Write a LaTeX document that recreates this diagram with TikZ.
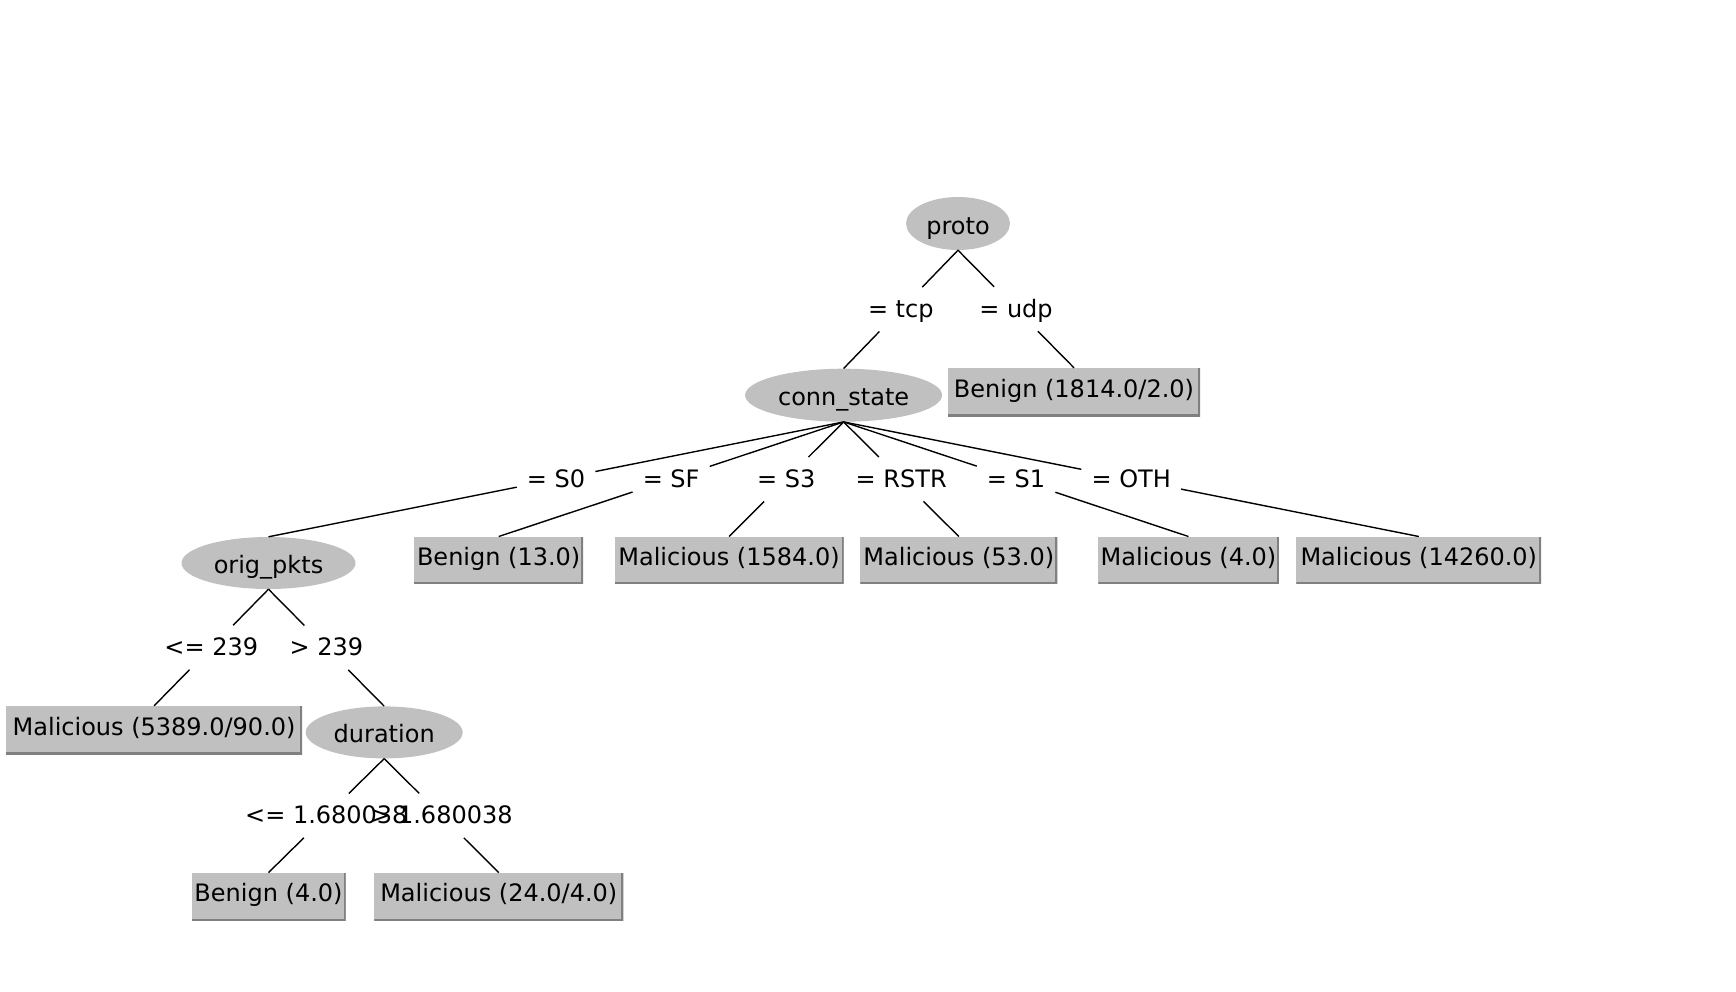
\documentclass[tikz,border=0pt]{standalone}
\usepackage{fontspec}
\setmainfont{DejaVu Sans}
\usetikzlibrary{shapes.geometric}
\definecolor{nodegray}{RGB}{192,192,192}
\definecolor{edgeshade}{RGB}{128,128,128}
\tikzset{
  every node/.style={font=\fontsize{24}{29}\selectfont, text height=17.5pt, text depth=7.5pt},
  split/.style={ellipse, fill=nodegray, inner sep=0pt, minimum width=#1, minimum height=53pt,
    text height=23pt, text depth=2pt},
  leaf/.style={rectangle, fill=nodegray, inner sep=0pt, minimum height=48pt, minimum width=#1,
    path picture={\draw[edgeshade, line width=4pt]
      (path picture bounding box.south west) -- (path picture bounding box.south east)
      -- (path picture bounding box.north east);}},
  branch/.style={draw=black, line width=1.4pt},
  % branch labels: an invisible plate that the branch line stops at
  lbl/.style={rectangle, inner xsep=10pt, inner ysep=0pt, minimum height=44pt,
    text height=20.5pt, text depth=4.5pt},
}
\begin{document}
\begin{tikzpicture}[x=1pt, y=-1pt]
\useasboundingbox (0,0) rectangle (1736,991);

% decision nodes
\node[split=104pt] (proto) at (958,223.5) {proto};
\node[split=197pt] (conn) at (843.6,395.2) {conn\_state};
\node[split=174pt, minimum height=52pt] (pkts) at (268.5,563) {orig\_pkts};
\node[split=157pt, minimum height=52pt] (dur) at (384.2,732.4) {duration};

% leaves
\node[leaf=252pt] (udpleaf) at (1074,392) {Benign (1814.0/2.0)};
\node[leaf=169pt, minimum height=47pt] (sf) at (498.7,560.2) {Benign (13.0)};
\node[leaf=229pt, minimum height=47pt] (sthree) at (729,560.2) {Malicious (1584.0)};
\node[leaf=197pt, minimum height=47pt] (rstr) at (958.8,560.2) {Malicious (53.0)};
\node[leaf=180.5pt, minimum height=47pt] (sone) at (1188.5,560.2) {Malicious (4.0)};
\node[leaf=244.7pt, minimum height=47pt] (oth) at (1418.8,560.2) {Malicious (14260.0)};
\node[leaf=296pt] (low) at (154.1,730) {Malicious (5389.0/90.0)};
\node[leaf=154pt] (short) at (268.5,896.8) {Benign (4.0)};
\node[leaf=249pt] (long) at (498.8,896.8) {Malicious (24.0/4.0)};

% branch labels, each halfway between parent and child
\path (proto.south) -- node[lbl] (t1) {= tcp} (conn.north);
\path (proto.south) -- node[lbl] (t2) {= udp} (udpleaf.north);
\path (conn.south) -- node[lbl] (t3) {= S0} (pkts.north);
\path (conn.south) -- node[lbl] (t4) {= SF} (sf.north);
\path (conn.south) -- node[lbl] (t5) {= S3} (sthree.north);
\path (conn.south) -- node[lbl] (t6) {= RSTR} (rstr.north);
\path (conn.south) -- node[lbl] (t7) {= S1} (sone.north);
\path (conn.south) -- node[lbl] (t8) {= OTH} (oth.north);
\path (pkts.south) -- node[lbl] (t9) {<= 239} (low.north);
\path (pkts.south) -- node[lbl] (t10) {> 239} (dur.north);
\path (dur.south) -- node[lbl] (t11) {<= 1.680038} (short.north);
\path (dur.south) -- node[lbl] (t12) {> 1.680038} (long.north);

% branches, broken at their labels
\draw[branch] (proto.south) -- (t1) (t1) -- (conn.north);
\draw[branch] (proto.south) -- (t2) (t2) -- (udpleaf.north);
\draw[branch] (conn.south) -- (t3) (t3) -- (pkts.north);
\draw[branch] (conn.south) -- (t4) (t4) -- (sf.north);
\draw[branch] (conn.south) -- (t5) (t5) -- (sthree.north);
\draw[branch] (conn.south) -- (t6) (t6) -- (rstr.north);
\draw[branch] (conn.south) -- (t7) (t7) -- (sone.north);
\draw[branch] (conn.south) -- (t8) (t8) -- (oth.north);
\draw[branch] (pkts.south) -- (t9) (t9) -- (low.north);
\draw[branch] (pkts.south) -- (t10) (t10) -- (dur.north);
\draw[branch] (dur.south) -- (t11) (t11) -- (short.north);
\draw[branch] (dur.south) -- (t12) (t12) -- (long.north);
\end{tikzpicture}
\end{document}
